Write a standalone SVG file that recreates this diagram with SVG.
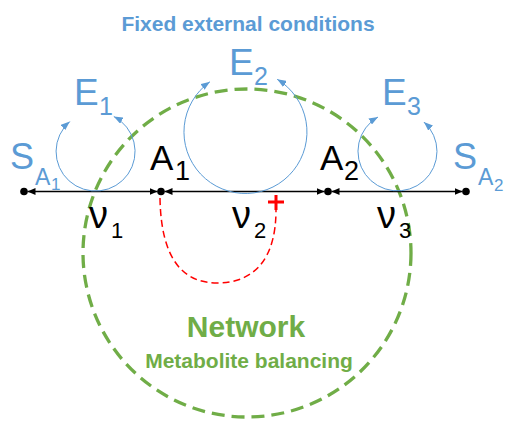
<svg xmlns="http://www.w3.org/2000/svg" width="505" height="421" viewBox="0 0 505 421">
<style>
.blue{fill:#5B9BD5}
.lbl{font-family:"Liberation Sans",Arial,sans-serif}
.loop{fill:none;stroke:#5B9BD5;stroke-width:1;marker-start:url(#ba);marker-end:url(#ba)}
.rxn{stroke:#000;stroke-width:1.5;marker-start:url(#ka);marker-end:url(#ka)}
.dot{fill:#000}
.green{fill:#70AD47;font-weight:bold}
</style>
<defs>
<marker id="ka" viewBox="0 0 8 7" refX="8" refY="3.5" markerWidth="8" markerHeight="7" markerUnits="userSpaceOnUse" orient="auto-start-reverse"><path d="M0,0 L8,3.5 L0,7 z" fill="#000"/></marker>
<marker id="ba" viewBox="0 0 9 7" refX="9" refY="3.5" markerWidth="9" markerHeight="7" markerUnits="userSpaceOnUse" orient="auto-start-reverse"><path d="M0,0 L9,3.5 L0,7 z" fill="#5B9BD5"/></marker>
</defs>
<rect width="505" height="421" fill="#fff"/>

<text class="lbl blue" x="248" y="31" font-size="21" font-weight="bold" text-anchor="middle">Fixed external conditions</text>

<g id="network">
<circle cx="247" cy="253" r="164" fill="none" stroke="#70AD47" stroke-width="3.3" stroke-dasharray="13 7"/>
<text class="lbl green" x="246" y="337" font-size="30" text-anchor="middle">Network</text>
<text class="lbl green" x="249" y="368" font-size="21" text-anchor="middle">Metabolite balancing</text>
</g>

<g id="connectors">
<line class="rxn" x1="27.5" y1="191.5" x2="157.5" y2="191.5"/>
<line class="rxn" x1="164.5" y1="191.5" x2="324.5" y2="191.5"/>
<line class="rxn" x1="331.5" y1="191.5" x2="462.5" y2="191.5"/>
<path class="loop" d="M69.8,121.6 A39.5,39.5 0 1,0 113.8,116.5"/>
<path class="loop" d="M209.9,81.8 A61.5,61.5 0 1,0 277.2,79.3"/>
<path class="loop" d="M378,117 A39.5,39.5 0 1,0 423.9,122"/>
<path d="M160,198 C161,262 185,283 217,283 C255,283 276,258 276,210" fill="none" stroke="#FF0000" stroke-width="1.5" stroke-dasharray="7 4"/>
<path d="M268,202 H284 M276,195 V210" stroke="#FF0000" stroke-width="3" fill="none"/>
</g>

<g id="SA1">
<circle class="dot" cx="24" cy="191.5" r="3.8"/>
<text class="lbl blue" font-size="36"><tspan x="10" y="169">S</tspan><tspan x="35" y="185" font-size="23">A</tspan><tspan x="51" y="190" font-size="17">1</tspan></text>
</g>
<g id="A1">
<circle class="dot" cx="161" cy="191.5" r="3.8"/>
<text class="lbl" font-size="35"><tspan x="150" y="170">A</tspan><tspan x="175" y="180" font-size="27">1</tspan></text>
</g>
<g id="A2">
<circle class="dot" cx="328" cy="191.5" r="3.8"/>
<text class="lbl" font-size="35"><tspan x="320" y="170">A</tspan><tspan x="344" y="180" font-size="27">2</tspan></text>
</g>
<g id="SA2">
<circle class="dot" cx="466" cy="191.5" r="3.8"/>
<text class="lbl blue" font-size="36"><tspan x="453" y="169">S</tspan><tspan x="478" y="185" font-size="23">A</tspan><tspan x="494" y="191" font-size="17">2</tspan></text>
</g>

<g id="E1"><text class="lbl blue" font-size="37"><tspan x="74" y="105">E</tspan><tspan x="99" y="115" font-size="25">1</tspan></text></g>
<g id="E2"><text class="lbl blue" font-size="37"><tspan x="229" y="75">E</tspan><tspan x="254" y="85" font-size="25">2</tspan></text></g>
<g id="E3"><text class="lbl blue" font-size="37"><tspan x="382" y="105">E</tspan><tspan x="407" y="115" font-size="25">3</tspan></text></g>

<g id="v1"><text class="lbl" font-size="38"><tspan x="89" y="228">ν</tspan><tspan x="111" y="238" font-size="22">1</tspan></text></g>
<g id="v2"><text class="lbl" font-size="38"><tspan x="232" y="228">ν</tspan><tspan x="254" y="238" font-size="22">2</tspan></text></g>
<g id="v3"><text class="lbl" font-size="38"><tspan x="377" y="228">ν</tspan><tspan x="399" y="238" font-size="22">3</tspan></text></g>
</svg>
